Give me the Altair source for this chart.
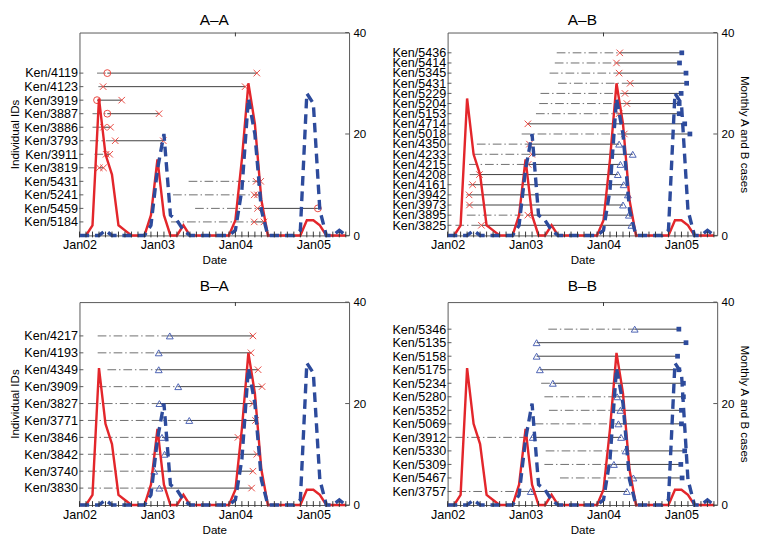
import altair as alt
import pandas as pd

# ---------------- data ----------------
months = list(range(42))  # month index, 0 = Jan 2002
cases_A = [0, 0, 2, 27, 16, 12, 2, 1, 0, 0, 0, 4, 15, 4, 0, 0, 2, 0, 0, 0, 0,
           0, 0, 0, 3, 15, 30, 22, 7, 0, 0, 0, 0, 0, 0, 3, 3, 2, 0, 0, 0, 0]
cases_B = [0, 0, 0, 0, 1, 0, 0, 0, 0, 0, 0, 2, 13, 20, 4, 3, 1, 0, 0, 0, 0,
           0, 0, 0, 1, 9, 27, 20, 5, 0, 0, 0, 0, 0, 1, 28, 26, 5, 0, 0, 1, 0]
xlabel_months = [0, 12, 24, 36]
xlabels = ["Jan02", "Jan03", "Jan04", "Jan05"]
case_ticks = [0, 20, 40]
top_tick_months = [24]

# A-A
AA_ids = ["Ken/4119", "Ken/4123", "Ken/3919", "Ken/3887", "Ken/3886", "Ken/3793",
          "Ken/3911", "Ken/3819", "Ken/5431", "Ken/5241", "Ken/5459", "Ken/5184"]
AA_start = [2.7, 2.9, 2.7, 2.0, 2.0, 1.6, 2.3, 1.3, 16.8, 14.4, 17.8, 14.1]
AA_m1 = [4.28, 3.64, 2.7, 4.28, 3.7, 5.5, 4.1, 3.05, 27.2, 26.9, 27.4, 26.9]
AA_t1 = ["o", "x", "o", "o", "x", "x", "x", "x", "x", "x", "x", "x"]
AA_m2 = [27.3, 25.5, 6.5, 12.25, 4.77, 12.9, 4.65, 3.69, 27.9, 27.4, 36.7, 28.4]
AA_t2 = ["x", "x", "x", "x", "x", "x", "x", "x", "x", "x", "o", "x"]

# A-B
AB_ids = ["Ken/5436", "Ken/5414", "Ken/5345", "Ken/5431", "Ken/5229", "Ken/5204",
          "Ken/5153", "Ken/4714", "Ken/5018", "Ken/4350", "Ken/4233", "Ken/4215",
          "Ken/4208", "Ken/4161", "Ken/3942", "Ken/3973", "Ken/3895", "Ken/3825"]
AB_start = [16.8, 16.5, 15.7, 17.0, 14.3, 14.1, 13.6, 12.35, 11.4, 4.5, 4.0, 3.3,
            3.4, 3.2, 2.9, 2.9, 2.96, 1.2]
AB_m1 = [26.5, 26.0, 26.4, 28.1, 27.3, 27.6, 26.4, 12.35, 27.2, 12.6, 12.96, 12.4,
         4.9, 3.85, 3.3, 3.36, 12.35, 5.2]
AB_t1 = ["x"] * 18
AB_m2 = [36.05, 35.7, 36.7, 36.8, 35.95, 35.65, 35.65, 36.5, 37.3, 26.4, 28.5, 26.6,
         26.2, 27.1, 27.75, 27.0, 27.9, 28.3]
AB_t2 = ["sq"] * 9 + ["tri"] * 9

# B-A
BA_ids = ["Ken/4217", "Ken/4193", "Ken/4349", "Ken/3909", "Ken/3827", "Ken/3771",
          "Ken/3846", "Ken/3842", "Ken/3740", "Ken/3830"]
BA_start = [2.8, 2.8, 4.3, 2.8, 1.3, 1.3, 1.3, 1.3, 1.3, 1.3]
BA_m1 = [13.9, 12.2, 12.2, 15.2, 12.3, 16.9, 12.7, 13.1, 11.5, 12.3]
BA_t1 = ["tri"] * 10
BA_m2 = [26.7, 26.4, 27.5, 28.1, 26.7, 27.1, 24.4, 27.3, 26.7, 26.5]
BA_t2 = ["x"] * 10

# B-B
BB_ids = ["Ken/5346", "Ken/5135", "Ken/5158", "Ken/5175", "Ken/5234", "Ken/5280",
          "Ken/5352", "Ken/5069", "Ken/3912", "Ken/5330", "Ken/5309", "Ken/5467",
          "Ken/3757"]
BB_start = [15.5, 13.7, 13.7, 14.2, 14.4, 14.9, 15.6, 13.4, 1.2, 15.1, 14.9, 17.3, 1.5]
BB_m1 = [28.8, 13.7, 13.7, 14.2, 16.2, 26.1, 26.6, 26.3, 13.1, 27.4, 25.6, 28.6, 12.8]
BB_t1 = ["tri"] * 13
BB_m2 = [35.6, 36.7, 35.4, 35.6, 36.3, 36.3, 36.0, 36.0, 26.7, 36.5, 35.9, 36.1, 27.6]
BB_t2 = ["sq"] * 8 + ["tri"] + ["sq"] * 3 + ["tri"]

# ---------------- style ----------------
W, H = 279, 210
FONT = "Liberation Sans"
RED = "#e3262b"
RED_MK = "#e8463f"
BLUE = "#2d4b9c"
BLUE_MK = "#4a60b2"
XPATH = "M-1,-1L1,1M-1,1L1,-1"

cases_df = pd.DataFrame({
    "month": months * 2,
    "cases": cases_A + cases_B,
    "series": ["A"] * len(months) + ["B"] * len(months),
})

x_label_expr = " : ".join(
    [f"datum.value == {m} ? '{l}'" for m, l in zip(xlabel_months, xlabels)]) + " : ''"

x_axis = alt.Axis(values=xlabel_months, labelExpr=x_label_expr, ticks=False,
                  domain=False, grid=False, title="Date", labelFontSize=13,
                  titleFontSize=12, labelPadding=4, titlePadding=3, labelFlush=False)
x_scale = alt.Scale(domain=[0, 41.5], nice=False, zero=False)


def X(field):
    return alt.X(f"{field}:Q", scale=x_scale, axis=x_axis)


def panel(title, ids, start, m1, t1, m2, t2, ymax, left_title, right_title,
          title_offset):
    n = len(ids)
    pos = list(range(n, 0, -1))
    rows = pd.DataFrame({"id": ids, "pos": pos, "start": start, "m1": m1, "m2": m2})
    marks = pd.DataFrame({"pos": pos + pos, "m": m1 + m2, "type": t1 + t2})
    rev = ids[::-1]
    label_expr = "[" + ",".join(f"'{i}'" for i in rev) + "][datum.value - 1]"
    y_axis = alt.Axis(values=pos, labelExpr=label_expr, ticks=False, domain=False,
                      grid=False, orient="left", labelOverlap=False, labelFlush=False,
                      labelFontSize=13, labelPadding=2, titlePadding=2,
                      title="Individual IDs" if left_title else None)
    Y = alt.Y("pos:Q", scale=alt.Scale(domain=[0, ymax], nice=False, zero=False),
              axis=y_axis)

    base = alt.Chart(rows)
    dashdot = base.transform_filter("datum.start < datum.m1").mark_rule(
        color="#6b6b6b", strokeWidth=1, strokeDash=[9, 3, 1.5, 3]).encode(
        x=X("start"), x2="m1:Q", y=Y)
    solid = base.mark_rule(color="#3a3a3a", strokeWidth=1).encode(
        x=X("m1"), x2="m2:Q", y=Y)
    lticks = base.mark_rule(color="#555", strokeWidth=1).encode(
        x=alt.value(0), x2=alt.value(4), y=Y)

    mk = alt.Chart(marks)
    mx = mk.transform_filter("datum.type == 'x'").mark_point(
        shape=XPATH, filled=False, color=RED_MK, size=45, strokeWidth=1,
        opacity=1).encode(x=X("m"), y=Y)
    mo = mk.transform_filter("datum.type == 'o'").mark_point(
        shape="circle", filled=False, color=RED_MK, size=50, strokeWidth=1,
        opacity=1).encode(x=X("m"), y=Y)
    mt = mk.transform_filter("datum.type == 'tri'").mark_point(
        shape="triangle-up", filled=False, color=BLUE_MK, size=50, strokeWidth=1,
        opacity=1).encode(x=X("m"), y=Y)
    ms = mk.transform_filter("datum.type == 'sq'").mark_point(
        shape="square", filled=True, color=BLUE, size=24, opacity=1).encode(
        x=X("m"), y=Y)

    id_group = alt.layer(lticks, dashdot, solid, mx, mo, mt, ms)

    yc_axis = alt.Axis(orient="right", values=case_ticks, ticks=False, domain=False,
                       grid=False, labelFontSize=12, labelPadding=4, titlePadding=4,
                       labelFlush=False,
                       title="Monthly A and B cases" if right_title else None)
    Yc = alt.Y("cases:Q", scale=alt.Scale(domain=[0, 40], nice=False), axis=yc_axis)

    cbase = alt.Chart(cases_df)
    red = cbase.transform_filter("datum.series == 'A'").mark_line(
        color=RED, strokeWidth=2.5).encode(x=X("month"), y=Yc)
    blue = cbase.transform_filter("datum.series == 'B'").mark_line(
        color=BLUE, strokeWidth=3.5, strokeDash=[10, 6]).encode(x=X("month"), y=Yc)
    rticks = alt.Chart(pd.DataFrame({"cases": case_ticks})).mark_rule(
        color="#555", strokeWidth=1).encode(x=alt.value(W - 4), x2=alt.value(W), y=Yc)
    mticks = alt.Chart(pd.DataFrame({"month": months})).mark_rule(
        color="#333", strokeWidth=1).encode(x=X("month"), y=alt.value(H - 4),
                                            y2=alt.value(H + 2))
    tticks = alt.Chart(pd.DataFrame({"month": top_tick_months})).mark_rule(
        color="#333", strokeWidth=1).encode(x=X("month"), y=alt.value(0),
                                            y2=alt.value(4))
    case_group = alt.layer(red, blue, rticks, mticks, tticks)

    return alt.layer(id_group, case_group).resolve_scale(y="independent").properties(
        width=W, height=H,
        title=alt.TitleParams(title, fontSize=16, fontWeight="normal", font=FONT,
                              color="black", offset=title_offset))


AA = panel("A\u2013A", AA_ids, AA_start, AA_m1, AA_t1, AA_m2, AA_t2, 15, True, False, -1)
AB = panel("A\u2013B", AB_ids, AB_start, AB_m1, AB_t1, AB_m2, AB_t2, 20, False, True, -1)
BA = panel("B\u2013A", BA_ids, BA_start, BA_m1, BA_t1, BA_m2, BA_t2, 12, True, False, 3)
BB = panel("B\u2013B", BB_ids, BB_start, BB_m1, BB_t1, BB_m2, BB_t2, 15, False, True, 3)

chart = alt.vconcat(
    alt.hconcat(AA, AB, spacing=25),
    alt.hconcat(BA, BB, spacing=25),
    spacing=11,
).configure_view(stroke="#555", strokeWidth=1).configure_axis(
    labelFont=FONT, titleFont=FONT, labelColor="black", titleColor="black",
    titleFontWeight="normal", titleFontSize=12,
).properties(padding={"left": 0, "right": 0, "top": -6, "bottom": 0})

chart.save("out.html", embed_options={"renderer": "svg", "actions": False})
